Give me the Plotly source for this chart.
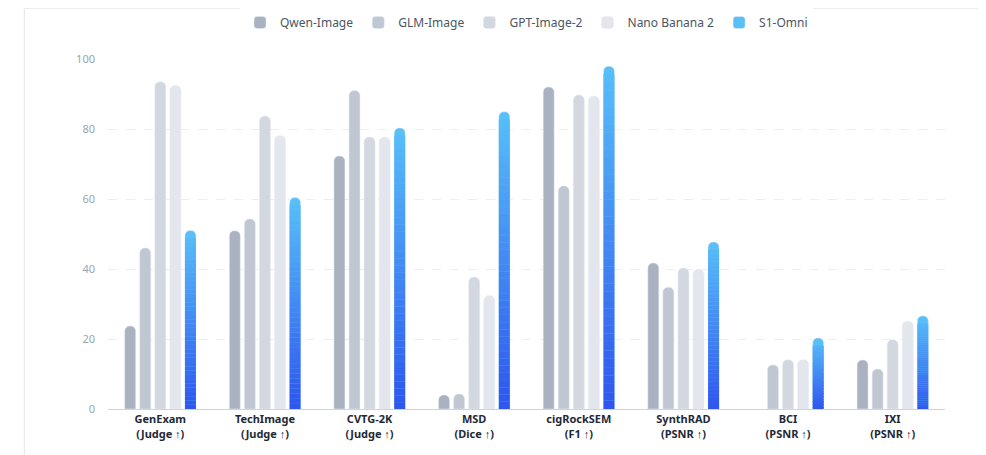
import plotly.graph_objects as go

categories = ["GenExam<br>(Judge ↑)", "TechImage<br>(Judge ↑)", "CVTG-2K<br>(Judge ↑)", "MSD<br>(Dice ↑)",
              "cigRockSEM<br>(F1 ↑)", "SynthRAD<br>(PSNR ↑)", "BCI<br>(PSNR ↑)", "IXI<br>(PSNR ↑)"]
qwen = [23.7, 50.9, 72.3, 4.0, 92.0, 41.7, None, 14.0]
glm = [46.0, 54.3, 91.0, 4.3, 63.7, 34.8, 12.6, 11.4]
gpt = [93.5, 83.7, 77.7, 37.7, 89.7, 40.3, 14.1, 19.8]
nano = [92.4, 78.1, 77.7, 32.4, 89.4, 39.9, 14.1, 25.1]
s1 = [51.0, 60.4, 80.3, 84.9, 97.9, 47.7, 20.3, 26.6]

x = list(range(len(categories)))
fig = go.Figure()
for name, vals, col in [("Qwen-Image", qwen, "#aab2c1"), ("GLM-Image", glm, "#c0c6d2"),
                        ("GPT-Image-2", gpt, "#d3d7e0"), ("Nano Banana 2", nano, "#e3e6ec")]:
    fig.add_bar(x=x, y=vals, name=name, marker=dict(color=col, cornerradius=5),
                offsetgroup=name)
fig.add_bar(x=x, y=s1, name="S1-Omni", marker=dict(color="#58bff8", cornerradius=5), offsetgroup="s1")

def lerp(c1, c2, t):
    a = [int(c1[i:i+2], 16) for i in (1, 3, 5)]
    b = [int(c2[i:i+2], 16) for i in (1, 3, 5)]
    return "rgb(%d,%d,%d)" % tuple(round(a[i] + (b[i] - a[i]) * t) for i in range(3))

N = 40
for k in range(N):
    ys, bases, cols = [], [], []
    for v in s1:
        top = max(v - 2.2, 0)
        h = top / N
        ys.append(h)
        bases.append(k * h)
        cols.append(lerp("#2f55ee", "#58bff8", (k + 0.5) * h / v))
    fig.add_bar(x=x, y=ys, base=bases, marker=dict(color=cols, line=dict(width=0)),
                offsetgroup="s1", showlegend=False, hoverinfo="skip")

fig.update_layout(
    width=986, height=455, barmode="group", bargap=0.28, bargroupgap=0.27,
    paper_bgcolor="white", plot_bgcolor="white",
    margin=dict(l=100, r=49, t=51, b=54),
    font=dict(family="Noto Sans, sans-serif", color="#4b5563"),
    legend=dict(orientation="h", x=0.5, xanchor="center", y=1.0, yref="container", yanchor="top",
                font=dict(size=12, color="#4b5563"), itemwidth=30, traceorder="normal"),
    xaxis=dict(tickmode="array", tickvals=x, ticktext=["<b>%s</b>" % c for c in categories],
               tickfont=dict(size=11, color="#1f2937"), showline=True, linecolor="#cfd4dc",
               showgrid=False, range=[-0.5, 7.5], ticks=""),
    yaxis=dict(range=[0, 100], dtick=20, gridcolor="#eceef2", griddash="dash",
               tickfont=dict(size=11, color="#9aa4b2"), zeroline=False, ticklabelstandoff=12),
    shapes=[dict(type="path", xref="paper", yref="paper",
                 path="M 0.0 0 L 0.0 0 Z", line=dict(width=0))],
)
fig.layout.shapes = []
fig.add_shape(type="rect", xref="paper", yref="paper", x0=-0.1, x1=1.058, y0=-0.155, y1=1.145,
              line=dict(color="#e5e7eb", width=1), layer="below")
fig.write_html("out.html")
